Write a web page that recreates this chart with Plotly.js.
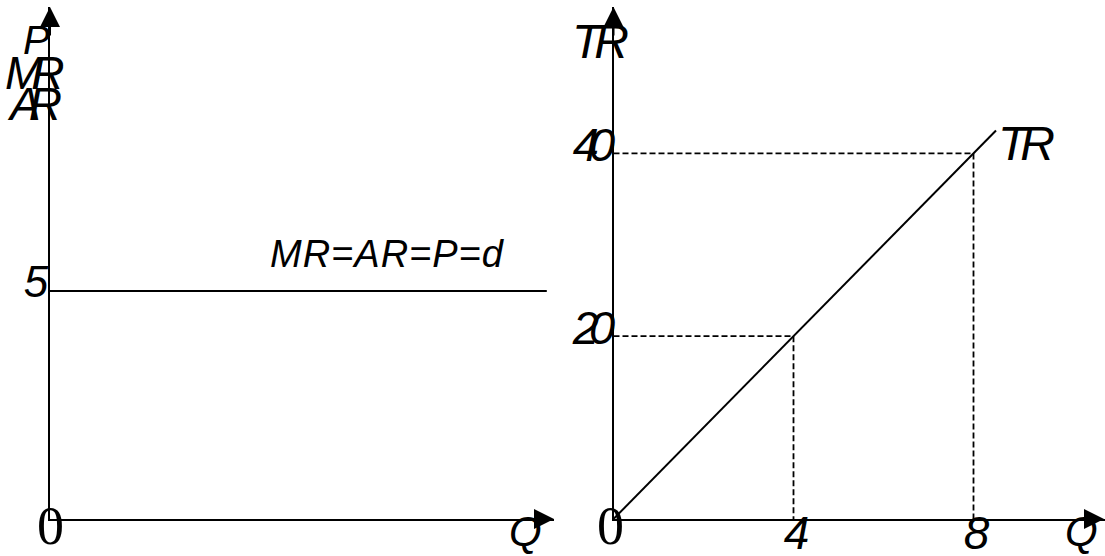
<!DOCTYPE html>
<html>
<head>
<meta charset="utf-8">
<script src="https://cdn.plot.ly/plotly-3.0.1.min.js"></script>
<style>
html,body{margin:0;padding:0;background:#fff;}
#chart{width:1105px;height:556px;}
</style>
</head>
<body>
<div id="chart"></div>
<script>
// ---- data ----
const priceLevel = 5;                 // MR = AR = P = d
const demandQ = [0, 11.04];           // horizontal demand line extent (Q)
const priceTicks = [5];
const trQ = [0, 8.5];                 // TR line Q values
const trValues = [0, 42.5];           // TR line values
const qMarks = [4, 8];                // marked output levels
const trMarks = [20, 40];             // TR at those output levels
const qTickLabels = ['4', '8'];
const trTickLabels = ['20', '40'];

// ---- geometry helpers (pixels -> paper) ----
const W = 1105, H = 556;
const px = v => v / W;
const py = v => 1 - v / H;

const originY = 519, topY = 7;
const leftOX = 50, leftEnd = 554;
const rightOX = 613.5;

const sans = 'Liberation Sans, Arial, sans-serif';
const serif = 'Liberation Serif, Times New Roman, serif';
const black = '#000';

const traces = [
  {x: demandQ, y: [priceLevel, priceLevel], xaxis: 'x', yaxis: 'y', mode: 'lines',
   line: {color: black, width: 2}, hoverinfo: 'skip'},
  {x: trQ, y: trValues, xaxis: 'x2', yaxis: 'y2', mode: 'lines',
   line: {color: black, width: 2}, hoverinfo: 'skip'}
];
qMarks.forEach((q, i) => {
  traces.push({x: [0, q, q], y: [trMarks[i], trMarks[i], 0], xaxis: 'x2', yaxis: 'y2',
    mode: 'lines', line: {color: black, width: 1.8, dash: '6px,3px'}, hoverinfo: 'skip'});
});

const yDomain = [1 - originY / H, 1 - topY / H];

const baseAxis = {
  showgrid: false, zeroline: false, showline: true, linecolor: black, linewidth: 2,
  ticks: '', fixedrange: true
};

const layout = {
  width: W, height: H,
  margin: {l: 0, r: 0, t: 0, b: 0},
  paper_bgcolor: '#fff', plot_bgcolor: '#fff',
  showlegend: false,
  xaxis: Object.assign({}, baseAxis, {
    domain: [px(leftOX), px(leftEnd)], range: [0, (leftEnd - leftOX) / 45],
    anchor: 'y', showticklabels: false
  }),
  yaxis: Object.assign({}, baseAxis, {
    domain: yDomain, range: [0, (originY - topY) / 45.6], anchor: 'x',
    tickmode: 'array', tickvals: priceTicks, ticktext: priceTicks.map(String),
    tickfont: {family: sans, size: 44, color: black, style: 'italic'},
    ticklabelshift: -9, ticklabelstandoff: -9
  }),
  xaxis2: Object.assign({}, baseAxis, {
    domain: [px(rightOX), 1], range: [0, (W - rightOX) / 45], anchor: 'y2',
    tickmode: 'array', tickvals: qMarks, ticktext: qTickLabels,
    tickfont: {family: sans, size: 46, color: black, style: 'italic'},
    ticklabelstandoff: -27, ticklabelshift: 3
  }),
  yaxis2: Object.assign({}, baseAxis, {
    domain: yDomain, range: [0, (originY - topY) / 9.14], anchor: 'x2',
    tickmode: 'array', tickvals: trMarks,
    ticktext: trTickLabels.map(t => '<span style="letter-spacing:-10px">' + t + '</span>'),
    tickfont: {family: sans, size: 47, color: black, style: 'italic'},
    ticklabelshift: -9, ticklabelstandoff: -3
  }),
  annotations: []
};

function arrow(tipX, tipY, ax, ay) {
  return {xref: 'paper', yref: 'paper', x: px(tipX), y: py(tipY), ax: ax, ay: ay,
    text: '', showarrow: true, arrowhead: 2, arrowsize: 2, arrowwidth: 2,
    arrowcolor: black, standoff: 0};
}
function label(text, cx, cy, size, family, italic, extra) {
  return Object.assign({xref: 'paper', yref: 'paper', x: px(cx), y: py(cy),
    xanchor: 'center', yanchor: 'middle', showarrow: false, text: text,
    font: {family: family, size: size, color: black, style: italic ? 'italic' : 'normal'}}, extra || {});
}
const ls = (t, s) => '<span style="letter-spacing:' + s + 'px">' + t + '</span>';

layout.annotations.push(
  arrow(leftOX, topY, 0, 30),
  arrow(leftEnd, originY, -30, 0),
  arrow(rightOX, topY, 0, 30),
  arrow(1116, originY, -30, 0),
  label('P', 36, 40, 40, sans, true),
  label(ls('MR', -12), 34, 73, 46, sans, true),
  label(ls('AR', -12), 34, 104, 46, sans, true),
  label(ls('MR=AR=P=d', 1), 387, 254, 38, sans, true),
  label(ls('TR', -7), 600, 42, 48, sans, true),
  label(ls('TR', -7), 1026, 144, 48, sans, true),
  label('0', 50, 526, 54, serif, false),
  label('0', 610, 526, 54, serif, false),
  label('Q', 525, 531, 42, sans, true),
  label('Q', 1081, 531, 42, sans, true)
);

Plotly.newPlot('chart', traces, layout, {staticPlot: true, displayModeBar: false});
</script>
</body>
</html>
